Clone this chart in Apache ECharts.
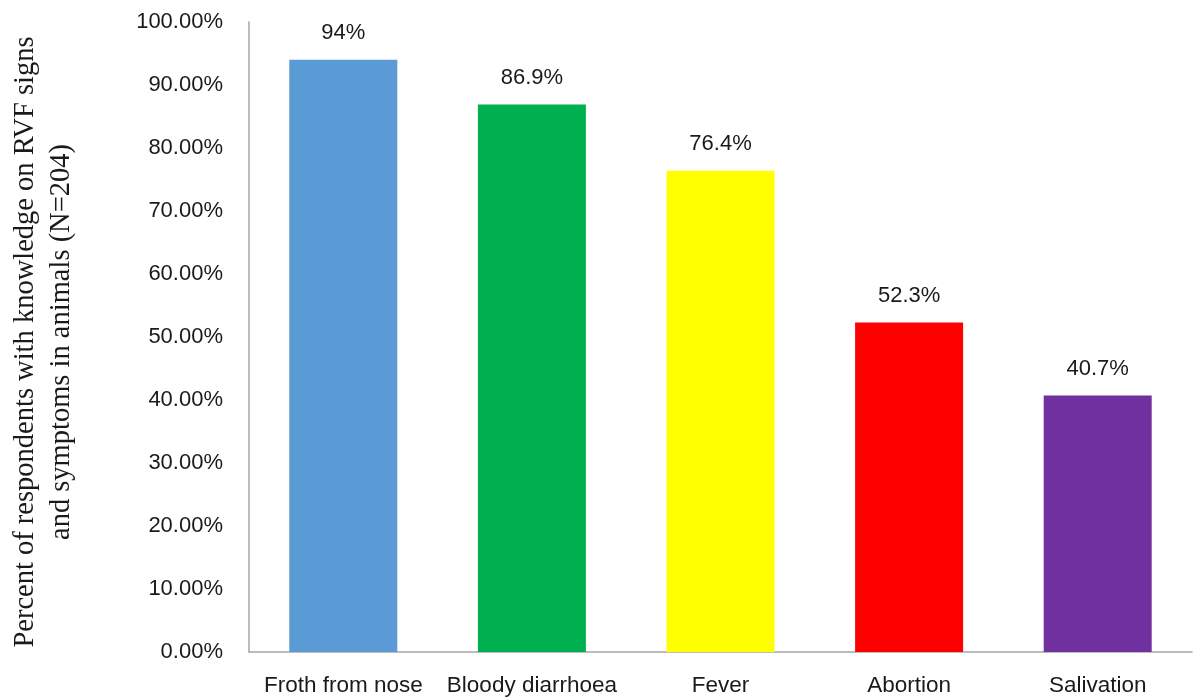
<!DOCTYPE html>
<html>
<head>
<meta charset="utf-8">
<script src="https://cdn.jsdelivr.net/npm/echarts@6/dist/echarts.min.js"></script>
<style>
  html, body { margin: 0; padding: 0; background: #fff; }
  #chart { width: 1197px; height: 698px; }
</style>
</head>
<body>
<div id="chart"></div>
<script>
// Signs and symptoms of RVF in animals known by respondents (N=204)
const categories = ['Froth from nose', 'Bloody diarrhoea', 'Fever', 'Abortion', 'Salivation'];
const percents = [94, 86.9, 76.4, 52.3, 40.7];
const barColors = ['#5B9BD5', '#00B050', '#FFFF00', '#FF0000', '#7030A0'];
const yTicks = { min: 0, max: 100, interval: 10 };
const yTitle = 'Percent of respondents with knowledge on RVF signs\nand symptoms in animals (N=204)';

const sans = '"Liberation Sans", Arial, sans-serif';
const serif = '"Liberation Serif", "Times New Roman", serif';

const chart = echarts.init(document.getElementById('chart'), null, { renderer: 'canvas' });

chart.setOption({
  animation: false,
  backgroundColor: '#ffffff',
  grid: { left: 249, right: 5, top: 22, bottom: 46, containLabel: false },
  xAxis: {
    type: 'category',
    data: categories,
    axisLine: { show: true, lineStyle: { color: '#A6A6A6', width: 1.5 } },
    axisTick: { show: false },
    axisLabel: { interval: 0, color: '#1a1a1a', fontFamily: sans, fontSize: 22.5, margin: 22 }
  },
  yAxis: {
    type: 'value',
    min: yTicks.min,
    max: yTicks.max,
    interval: yTicks.interval,
    axisLine: { show: true, lineStyle: { color: '#A6A6A6', width: 1.5 } },
    axisTick: { show: false },
    splitLine: { show: false },
    axisLabel: {
      color: '#1a1a1a', fontFamily: sans, fontSize: 22, margin: 26,
      formatter: v => v.toFixed(2) + '%'
    }
  },
  graphic: [{
    type: 'text',
    x: 44,
    y: 342,
    rotation: Math.PI / 2,
    style: {
      text: yTitle,
      fill: '#1a1a1a',
      font: '28.5px ' + serif,
      lineHeight: 36,
      align: 'center',
      verticalAlign: 'middle'
    }
  }],
  series: [{
    type: 'bar',
    barWidth: 108,
    data: percents.map((v, i) => ({ value: v, itemStyle: { color: barColors[i] } })),
    label: {
      show: true,
      position: 'top',
      distance: 16,
      color: '#1a1a1a',
      fontFamily: sans,
      fontSize: 22,
      formatter: p => p.value + '%'
    }
  }]
});
</script>
</body>
</html>
